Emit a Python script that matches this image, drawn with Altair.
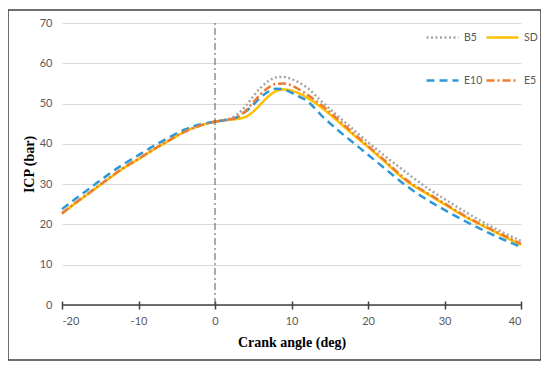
import altair as alt
import pandas as pd

angles = [-20, -18, -16, -14, -12, -10, -8, -6, -4, -2, 0, 1, 2, 3, 4, 5, 6, 7, 8, 9,
          10, 11, 12, 14, 16, 18, 20, 22, 25, 28, 30, 33, 36, 40]

b5 = [22.7, 25.6, 28.4, 31.2, 33.9, 36.2, 38.6, 40.8, 43.0, 44.5, 45.5, 45.9, 46.3, 47.4,
      49.4, 51.8, 54.0, 55.6, 56.5, 56.6, 56.1, 55.2, 54.0, 50.4, 47.0, 43.7, 40.4,
      37.3, 32.9, 28.7, 26.3, 22.8, 19.6, 15.9]
sd = [22.7, 25.6, 28.4, 31.2, 33.9, 36.2, 38.6, 40.8, 43.0, 44.5, 45.5, 45.8, 46.0, 46.2,
      46.7, 48.0, 49.9, 51.8, 53.1, 53.5, 53.2, 52.5, 51.5, 48.9, 45.7, 42.4, 39.2,
      35.9, 30.8, 27.3, 25.0, 21.6, 18.7, 14.9]
e10 = [23.8, 26.7, 29.5, 32.3, 34.9, 37.2, 39.5, 41.6, 43.5, 44.8, 45.5, 45.8, 46.1, 46.7,
       48.0, 49.7, 51.6, 53.0, 53.7, 53.5, 52.7, 51.7, 50.7, 46.9, 43.5, 40.4, 37.3,
       34.2, 29.6, 25.8, 23.6, 20.5, 17.7, 14.4]
e5 = [22.8, 25.7, 28.5, 31.3, 34.0, 36.3, 38.7, 40.9, 43.0, 44.5, 45.5, 45.8, 46.1, 46.7,
      48.2, 50.3, 52.4, 54.0, 54.9, 55.0, 54.5, 53.5, 52.3, 49.5, 46.2, 42.8, 39.5,
      36.2, 31.1, 27.5, 25.2, 21.8, 18.9, 15.2]

series_order = ["B5", "SD", "E10", "E5"]
series_colors = ["#a6a6a6", "#ffc000", "#2e97d8", "#ed7d31"]
series_dashes = [[2, 2.5], [1, 0], [8, 5], [8, 3, 2, 3]]
x_ticks = [-20, -10, 0, 10, 20, 30, 40]
y_ticks = [0, 10, 20, 30, 40, 50, 60, 70]

rows = []
for name, vals in zip(series_order, [b5, sd, e10, e5]):
    for a, v in zip(angles, vals):
        rows.append({"angle": a, "icp": v, "series": name})
df = pd.DataFrame(rows)

label_font = "Lato"
title_font = "Liberation Serif"

xscale = alt.Scale(domain=[-20, 40], nice=False, zero=False)
yscale = alt.Scale(domain=[0, 70], nice=False)

leg = alt.Legend(
    title=None, orient="none", legendX=363, legendY=-3, columns=2,
    direction="horizontal",
    symbolType="stroke", symbolSize=1024, symbolStrokeWidth=2.5,
    labelFontSize=10.5, labelColor="#595959", labelFont=label_font,
    labelOffset=4, columnPadding=-2, rowPadding=20, padding=0,
)

lines = alt.Chart(df).mark_line(strokeWidth=2.5, interpolate="monotone").encode(
    x=alt.X("angle:Q", scale=xscale, axis=alt.Axis(
        values=x_ticks, title="Crank angle (deg)", grid=False, domain=False,
        labelExpr="'' + datum.value",
        ticks=True, tickSize=8, offset=-4, tickColor="#404040", tickWidth=1.5,
        labelColor="#595959", labelFont=label_font, labelFontSize=11, labelPadding=6,
        titleFont=title_font, titleFontSize=14, titleFontWeight="bold",
        titleColor="#000000", titlePadding=9)),
    y=alt.Y("icp:Q", scale=yscale, axis=alt.Axis(
        values=y_ticks, title="ICP (bar)", grid=True, gridColor="#d9d9d9",
        gridWidth=1, domain=False, ticks=False, tickSize=0, labelPadding=10,
        labelColor="#595959", labelFont=label_font, labelFontSize=11,
        titleFont=title_font, titleFontSize=14, titleFontWeight="bold",
        titleColor="#000000", titlePadding=3)),
    color=alt.Color("series:N", scale=alt.Scale(domain=series_order, range=series_colors), legend=leg),
    strokeDash=alt.StrokeDash("series:N", scale=alt.Scale(domain=series_order, range=series_dashes), legend=leg),
)

axis_line = alt.Chart(pd.DataFrame({"angle": [-20], "angle2": [40], "icp": [0]})).mark_rule(
    color="#404040", strokeWidth=1.5).encode(
    x=alt.X("angle:Q", scale=xscale), x2="angle2:Q",
    y=alt.Y("icp:Q", scale=yscale))

vline = alt.Chart(pd.DataFrame({"angle": [0], "icp": [0], "icp2": [70]})).mark_rule(
    color="#595959", strokeWidth=1, strokeDash=[7, 3, 2, 3]).encode(
    x=alt.X("angle:Q", scale=xscale),
    y=alt.Y("icp:Q", scale=yscale), y2="icp2:Q")

frame = alt.Chart(alt.Data(values=[{}])).mark_rect(
    fillOpacity=0, stroke="#404040", strokeWidth=1.5).encode(
    x=alt.value(-54), x2=alt.value(479), y=alt.value(-13), y2=alt.value(337))

chart = alt.layer(lines, frame, vline, axis_line).properties(
    width=459, height=282,
    autosize=alt.AutoSizeParams(type="none"),
    padding={"left": 54, "top": 15, "right": 20, "bottom": 57},
).configure_view(stroke=None)

chart.save("out.html", embed_options={"renderer": "svg", "actions": False})
